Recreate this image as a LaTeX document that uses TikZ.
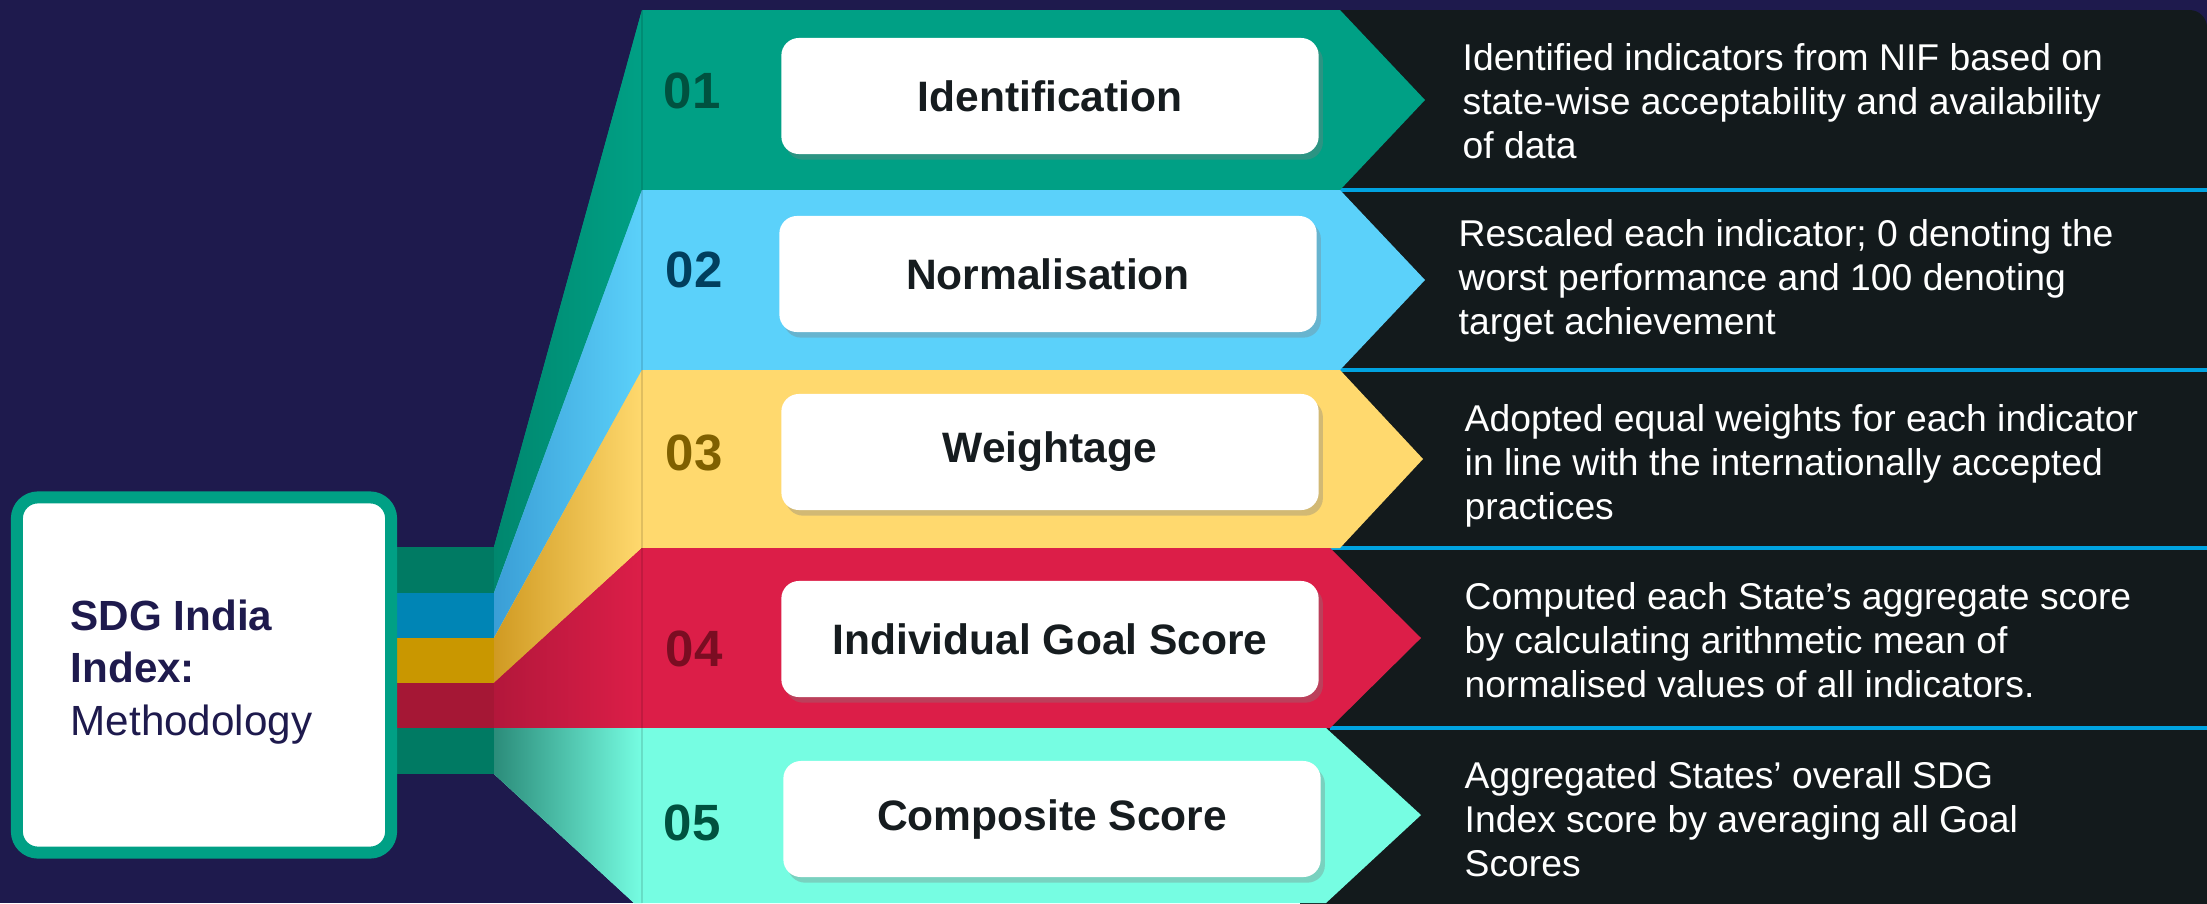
\documentclass[tikz,border=0pt]{standalone}
\usepackage{fontspec}
\setmainfont{Liberation Sans}
\usetikzlibrary{shadows}

\definecolor{bgnavy}{HTML}{1E1A4D}
\definecolor{panel}{HTML}{131A1C}
\definecolor{sepblue}{HTML}{00A3E0}
\definecolor{bandA}{HTML}{00A085}
\definecolor{bandB}{HTML}{5BD1FA}
\definecolor{bandC}{HTML}{FFD96E}
\definecolor{bandD}{HTML}{DC1E48}
\definecolor{bandE}{HTML}{76FDE2}
\definecolor{darkA}{HTML}{00876E}
\definecolor{darkB}{HTML}{3A9ED6}
\definecolor{darkC}{HTML}{D09A22}
\definecolor{darkD}{HTML}{B3173B}
\definecolor{darkE}{HTML}{2B8C7A}
\definecolor{stubA}{HTML}{007A63}
\definecolor{stubB}{HTML}{0085B5}
\definecolor{stubC}{HTML}{C99700}
\definecolor{stubD}{HTML}{A51735}
\definecolor{numA}{HTML}{00513F}
\definecolor{numB}{HTML}{013F5E}
\definecolor{numC}{HTML}{7F6000}
\definecolor{numD}{HTML}{7A0D22}
\definecolor{boxtext}{HTML}{161C1F}

\tikzset{
  labelbox/.style={fill=white, rounded corners=5pt, minimum width=5.37cm, minimum height=1.16cm,
    drop shadow={shadow xshift=1.2pt, shadow yshift=-1.6pt, opacity=0.35},
    text=boxtext, font=\fontsize{12.1}{14}\selectfont\bfseries},
  stepnum/.style={font=\fontsize{14.5}{16}\selectfont\bfseries},
  desc/.style={anchor=west, align=left, text=white, inner sep=0pt, font=\fontsize{10.6}{12.6}\selectfont},
  sepline/.style={sepblue, line width=1.1pt}
}

\begin{document}
\begin{tikzpicture}[x=0.01cm, y=-0.01cm]
        % Background
        \fill[bgnavy] (0,0) rectangle (2207,903);
        \useasboundingbox (0,0) rectangle (2207,903);

        % Dark panel and separators
        \fill[panel, rounded corners=5pt] (1300,10) rectangle (2207,960);
        \draw[sepline] (1330,190) -- (2207,190);
        \draw[sepline] (1330,370) -- (2207,370);
        \draw[sepline] (1330,548) -- (2207,548);
        \draw[sepline] (1330,728) -- (2207,728);

        % Stubs behind the index box
        \fill[stubA] (380,547) rectangle (494,593);
        \fill[stubB] (380,593) rectangle (494,638);
        \fill[stubC] (380,638) rectangle (494,683);
        \fill[stubD] (380,683) rectangle (494,728);
        \fill[stubA] (380,728) rectangle (494,774);

        % Bands
        \fill[bandA] (494,547) -- (642,10) -- (1340,10) -- (1425,100) -- (1340,190) -- (642,190) -- (494,593) -- cycle;
        \shade[left color=darkA, right color=bandA] (494,547) -- (642,10) -- (642,190) -- (494,593) -- cycle;
        \fill[bandB] (494,593) -- (642,190) -- (1340,190) -- (1425,280) -- (1340,370) -- (642,370) -- (494,638) -- cycle;
        \shade[left color=darkB, right color=bandB] (494,593) -- (642,190) -- (642,370) -- (494,638) -- cycle;
        \fill[bandC] (494,638) -- (642,370) -- (1340,370) -- (1423,459) -- (1340,548) -- (642,548) -- (494,683) -- cycle;
        \shade[left color=darkC, right color=bandC] (494,638) -- (642,370) -- (642,548) -- (494,683) -- cycle;
        \fill[bandD] (494,683) -- (642,548) -- (1330,548) -- (1421,638) -- (1330,728) -- (494,728) -- cycle;
        \shade[left color=darkD, right color=bandD] (494,683) -- (642,548) -- (642,728) -- (494,728) -- cycle;
        \fill[bandE] (494,728) -- (1326,728) -- (1421,815) -- (1326,903) -- (634,903) -- (494,774) -- cycle;
        \shade[left color=darkE, right color=bandE] (494,728) -- (642,728) -- (642,903) -- (634,903) -- (494,774) -- cycle;
        \draw[black, opacity=0.12, line width=0.6pt] (642,10) -- (642,903);

        % Step boxes
        \node[labelbox] (ident) at (1050,96) {Identification};
        \node[labelbox] (norm) at (1048,274) {Normalisation};
        \node[labelbox] (weight) at (1050,452) {Weightage};
        \node[labelbox] (goal) at (1050,639) {Individual Goal Score};
        \node[labelbox] (comp) at (1052,819) {Composite Score};

        % Step numbers
        \node[stepnum, text=numA] (numone) at (692,91) {01};
        \node[stepnum, text=numB] (numtwo) at (694,270) {02};
        \node[stepnum, text=numC] (numthree) at (694,453) {03};
        \node[stepnum, text=numD] (numfour) at (694,649) {04};
        \node[stepnum, text=numA] (numfive) at (692,823) {05};

        % Descriptions
        \node[desc] (descone) at (1462,101) {Identified indicators from NIF based on\\state-wise acceptability and availability\\of data};
        \node[desc] (desctwo) at (1458,281) {Rescaled each indicator; 0 denoting the\\worst performance and 100 denoting\\target achievement};
        \node[desc] (descthree) at (1464,466) {Adopted equal weights for each indicator\\in line with the internationally accepted\\practices};
        \node[desc] (descfour) at (1464,640) {Computed each State’s aggregate score\\by calculating arithmetic mean of\\normalised values of all indicators.};
        \node[desc] (descfive) at (1464,819) {Aggregated States’ overall SDG\\Index score by averaging all Goal\\Scores};

        % Index box
        \node[draw=bandA, line width=3.4pt, fill=white, rounded corners=6pt, minimum width=3.74cm, minimum height=3.55cm] (index) at (204,675) {};
        \node[anchor=west, align=left, inner sep=0pt, text=bgnavy, font=\fontsize{12}{15}\selectfont] (title) at (70,672) {\textbf{SDG India}\\\textbf{Index:}\\Methodology};
\end{tikzpicture}
\end{document}
